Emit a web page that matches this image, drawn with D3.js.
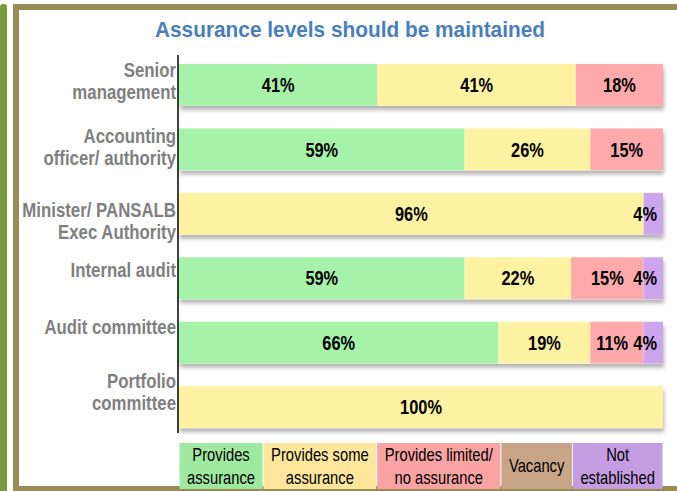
<!DOCTYPE html>
<html>
<head>
<meta charset="utf-8">
<script src="https://cdn.jsdelivr.net/npm/d3@7"></script>
<style>
  body { margin: 0; background: #fff; }
  text { font-family: "Liberation Sans", Arial, sans-serif; }
</style>
</head>
<body>
<div id="canvas"></div>
<script>
"use strict"

/* Data */
let categories = ["Senior management", "Accounting officer/ authority", "Minister/ PANSALB Exec Authority",
    "Internal audit", "Audit committee", "Portfolio committee"];
let categoryLines = [["Senior", "management"], ["Accounting", "officer/ authority"], ["Minister/ PANSALB", "Exec Authority"],
    ["Internal audit"], ["Audit committee"], ["Portfolio", "committee"]];

let providesAssurance = [41, 59, 0, 59, 66, 0];
let someAssurance = [41, 26, 96, 22, 19, 100];
let limitedAssurance = [18, 15, 0, 15, 11, 0];
let vacancy = [0, 0, 0, 0, 0, 0];
let notEstablished = [0, 0, 4, 4, 4, 0];

let seriesKeys = ["provides", "some", "limited", "vacancy", "notest"];
let legendLines = [["Provides", "assurance"], ["Provides some", "assurance"], ["Provides limited/", "no assurance"],
    ["Vacancy"], ["Not", "established"]];
let barColors = ["#a6f2a8", "#fff2a3", "#ffaaaa", "#c8a68a", "#cca5ee"];
let legendColors = ["#9fe8a0", "#ffe69c", "#f9a3a3", "#c9a588", "#c49de2"];

/* table for the stack */
let table = categories.map((c, i) => ({
    category: c,
    provides: providesAssurance[i],
    some: someAssurance[i],
    limited: limitedAssurance[i],
    vacancy: vacancy[i],
    notest: notEstablished[i]
}));

let W = 677, H = 491;
let NARROW = 0.82;   // squeeze Liberation Sans to look like Arial Narrow

let drawing = d3.select("#canvas")
    .append("svg")
    .attr("width", W)
    .attr("height", H);

/* narrow text helper: lines stacked around y */
function narrowText(parent, px, py, lines, size, weight, fill, anchor, lineH) {
    let t = parent.append("text")
        .attr("transform", `translate(${px},${py}) scale(${NARROW},1)`)
        .attr("text-anchor", anchor)
        .attr("font-size", size)
        .attr("font-weight", weight)
        .attr("fill", fill);
    lines.forEach((l, k) => {
        t.append("tspan")
            .attr("x", 0)
            .attr("y", (k - (lines.length - 1) / 2) * lineH + size * 0.36)
            .text(l);
    });
    return t;
}

/* shadow under the bars */
let defs = drawing.append("defs");
let shadow = defs.append("filter")
    .attr("id", "shadow")
    .attr("x", "-5%").attr("y", "-20%")
    .attr("width", "110%").attr("height", "160%");
shadow.append("feDropShadow")
    .attr("dx", 1).attr("dy", 4)
    .attr("stdDeviation", 2)
    .attr("flood-color", "#000")
    .attr("flood-opacity", 0.3);

/* Slide frame */
drawing.append("rect")
    .attr("x", 0).attr("y", 4)
    .attr("width", 7).attr("height", H)
    .attr("rx", 3)
    .attr("fill", "#789a3c");
drawing.append("rect")
    .attr("x", 13).attr("y", 4)
    .attr("width", 6).attr("height", H)
    .attr("fill", "#998b56");
drawing.append("rect")
    .attr("x", 13).attr("y", 4)
    .attr("width", W).attr("height", 6)
    .attr("fill", "#998b56");
drawing.append("rect")
    .attr("x", 19).attr("y", 486)
    .attr("width", W).attr("height", 5)
    .attr("fill", "#998b56");

/* Title */
drawing.append("text")
    .attr("x", 155)
    .attr("y", 37)
    .attr("textLength", 390)
    .attr("lengthAdjust", "spacingAndGlyphs")
    .attr("font-size", 22)
    .attr("font-weight", "bold")
    .attr("fill", "#4a7ebb")
    .text("Assurance levels should be maintained");

/* Scales */
let x = d3.scaleLinear()
    .domain([0, 100])
    .range([179, 663]);

let y = d3.scaleBand()
    .domain(categories)
    .range([53, 439])
    .paddingInner(0.35)
    .paddingOuter(0.17);

let color = d3.scaleOrdinal()
    .domain(seriesKeys)
    .range(barColors);

let stacked = d3.stack().keys(seriesKeys)(table);

/* Bars */
let bars = drawing.append("g");

bars.selectAll("rect.shadow")
    .data(categories)
    .join("rect")
    .attr("class", "shadow")
    .attr("x", x(0))
    .attr("y", d => y(d))
    .attr("width", x(100) - x(0))
    .attr("height", y.bandwidth())
    .attr("fill", "#fff")
    .attr("filter", "url(#shadow)");

let layers = bars.selectAll("g.layer")
    .data(stacked)
    .join("g")
    .attr("class", "layer")
    .attr("fill", d => color(d.key));

layers.selectAll("rect")
    .data(d => d.filter(s => s[1] - s[0] > 0))
    .join("rect")
    .attr("x", d => x(d[0]))
    .attr("y", d => y(d.data.category))
    .attr("width", d => x(d[1]) - x(d[0]))
    .attr("height", y.bandwidth());

/* Value labels: centred, but pushed left so they stay inside the bar
   and do not run into the label on their right */
let labels = drawing.append("g");
categories.forEach((c, i) => {
    let leftEdge = x(100) - 7;
    for (let k = stacked.length - 1; k >= 0; k--) {
        let s = stacked[k][i];
        if (s[1] - s[0] <= 0) continue;
        let txt = (s[1] - s[0]) + "%";
        let halfW = txt.length * 5.4;
        let cx = Math.min((x(s[0]) + x(s[1])) / 2, leftEdge - halfW);
        narrowText(labels, cx, y(c) + y.bandwidth() / 2, [txt], 20, "bold", "#000", "middle", 0);
        leftEdge = cx - halfW - 6;
    }
});

/* Axis line */
drawing.append("line")
    .attr("x1", 178).attr("x2", 178)
    .attr("y1", 55).attr("y2", 433)
    .attr("stroke", "#000")
    .attr("stroke-width", 1.5);

/* Category labels (slide placed them a little unevenly) */
let labelNudge = [-4, -3, 7, -9, -16, -15];
let catGroup = drawing.append("g");
categories.forEach((c, i) => {
    narrowText(catGroup, 176, y(c) + y.bandwidth() / 2 + labelNudge[i],
        categoryLines[i], 20.5, "bold", "#7f7f7f", "end", 22);
});

/* Legend table: cell widths follow the text */
let legend = drawing.append("g");
let legendTop = 443, legendBottom = 489;
let measure = legend.append("text").attr("font-size", 18);
let textWidths = legendLines.map(lines => d3.max(lines, l => {
    measure.text(l);
    return measure.node().getComputedTextLength() * NARROW;
}));
measure.remove();
let pad = (x(100) - x(0) - d3.sum(textWidths)) / legendLines.length;
let cx = x(0);
legendLines.forEach((lines, i) => {
    let w = textWidths[i] + pad;
    legend.append("rect")
        .attr("x", cx + 0.5)
        .attr("y", legendTop)
        .attr("width", w - 1)
        .attr("height", legendBottom - legendTop)
        .attr("fill", legendColors[i]);
    narrowText(legend, cx + w / 2, (legendTop + legendBottom) / 2, lines, 18, "normal", "#000", "middle", 23);
    cx += w;
});
</script>
</body>
</html>
